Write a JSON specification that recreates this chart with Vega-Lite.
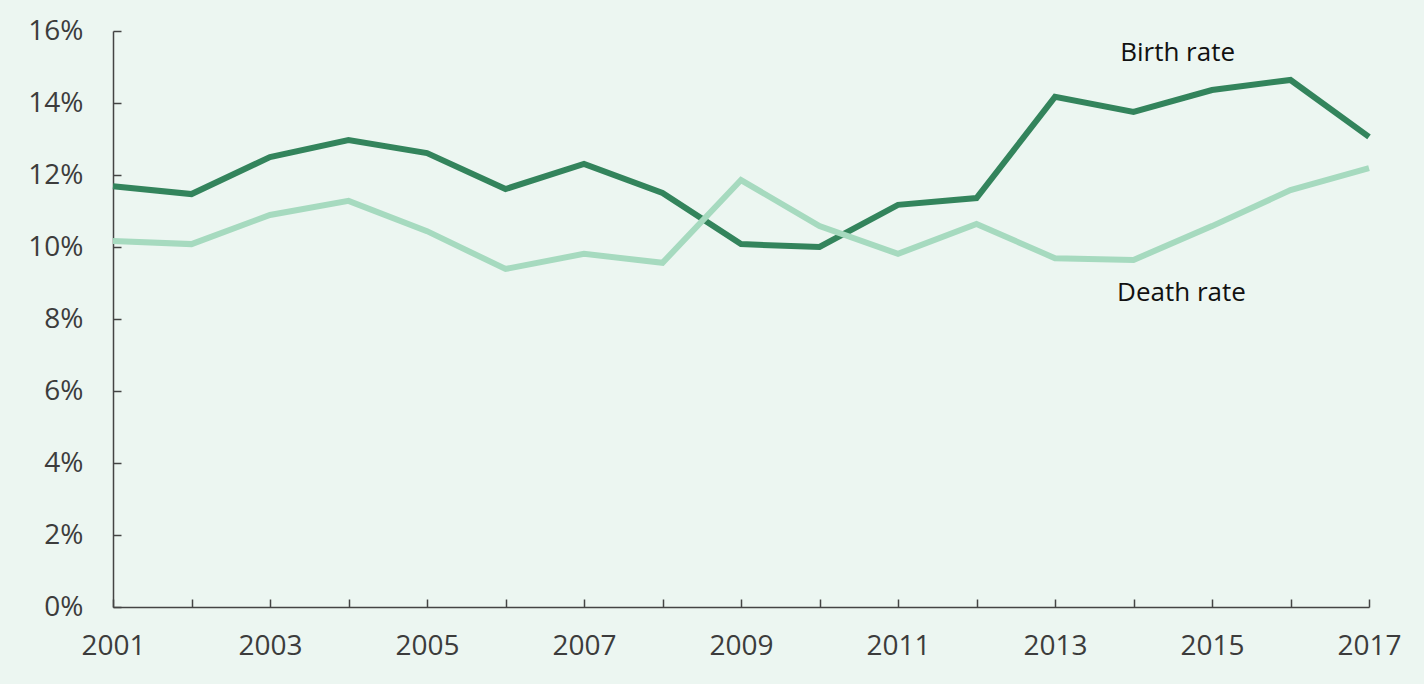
{
  "$schema": "https://vega.github.io/schema/vega-lite/v6.json",
  "width": 1256,
  "height": 576,
  "autosize": {"type": "none"},
  "padding": {"left": 113, "top": 31, "right": 55, "bottom": 77},
  "background": "#ECF6F1",
  "config": {
    "view": {"stroke": null},
    "font": "Open Sans"
  },
  "datasets": {
    "rates": [
      {"year": 2001, "series": "Birth rate", "value": 11.69},
      {"year": 2002, "series": "Birth rate", "value": 11.47},
      {"year": 2003, "series": "Birth rate", "value": 12.5},
      {"year": 2004, "series": "Birth rate", "value": 12.97},
      {"year": 2005, "series": "Birth rate", "value": 12.61},
      {"year": 2006, "series": "Birth rate", "value": 11.61},
      {"year": 2007, "series": "Birth rate", "value": 12.31},
      {"year": 2008, "series": "Birth rate", "value": 11.5},
      {"year": 2009, "series": "Birth rate", "value": 10.08},
      {"year": 2010, "series": "Birth rate", "value": 10.0},
      {"year": 2011, "series": "Birth rate", "value": 11.17},
      {"year": 2012, "series": "Birth rate", "value": 11.36},
      {"year": 2013, "series": "Birth rate", "value": 14.17},
      {"year": 2014, "series": "Birth rate", "value": 13.75},
      {"year": 2015, "series": "Birth rate", "value": 14.36},
      {"year": 2016, "series": "Birth rate", "value": 14.64},
      {"year": 2017, "series": "Birth rate", "value": 13.06},
      {"year": 2001, "series": "Death rate", "value": 10.17},
      {"year": 2002, "series": "Death rate", "value": 10.08},
      {"year": 2003, "series": "Death rate", "value": 10.89},
      {"year": 2004, "series": "Death rate", "value": 11.28},
      {"year": 2005, "series": "Death rate", "value": 10.44},
      {"year": 2006, "series": "Death rate", "value": 9.39},
      {"year": 2007, "series": "Death rate", "value": 9.81},
      {"year": 2008, "series": "Death rate", "value": 9.56},
      {"year": 2009, "series": "Death rate", "value": 11.86},
      {"year": 2010, "series": "Death rate", "value": 10.58},
      {"year": 2011, "series": "Death rate", "value": 9.81},
      {"year": 2012, "series": "Death rate", "value": 10.64},
      {"year": 2013, "series": "Death rate", "value": 9.69},
      {"year": 2014, "series": "Death rate", "value": 9.64},
      {"year": 2015, "series": "Death rate", "value": 10.58},
      {"year": 2016, "series": "Death rate", "value": 11.58},
      {"year": 2017, "series": "Death rate", "value": 12.19}
    ],
    "labels": [
      {"year": 2013.83, "value": 15.39, "label": "Birth rate"},
      {"year": 2013.79, "value": 8.72, "label": "Death rate"}
    ]
  },
  "layer": [
    {
      "data": {"name": "rates"},
      "mark": {"type": "line", "strokeWidth": 6, "strokeJoin": "miter"},
      "encoding": {
        "x": {
          "field": "year", "type": "quantitative",
          "scale": {"domain": [2001, 2017], "nice": false, "zero": false},
          "axis": {
            "title": null,
            "values": [2001,2002,2003,2004,2005,2006,2007,2008,2009,2010,2011,2012,2013,2014,2015,2016,2017],
            "labelExpr": "datum.value % 2 == 1 ? format(datum.value, 'd') : ''",
            "grid": false,
            "domainColor": "#444444",
            "domainWidth": 1.5,
            "tickColor": "#444444",
            "tickWidth": 1.5,
            "tickSize": -8,
            "labelFontSize": 28,
            "labelColor": "#3c3c3c",
            "labelPadding": 33,
            "labelFlush": false,
            "labelOverlap": false
          }
        },
        "y": {
          "field": "value", "type": "quantitative",
          "scale": {"domain": [0, 16], "nice": false},
          "axis": {
            "title": null,
            "values": [0,2,4,6,8,10,12,14,16],
            "labelExpr": "datum.value + '%'",
            "grid": false,
            "domainColor": "#444444",
            "domainWidth": 1.5,
            "tickColor": "#444444",
            "tickWidth": 1.5,
            "tickSize": -8,
            "labelFontSize": 28,
            "labelColor": "#3c3c3c",
            "labelPadding": 38
          }
        },
        "color": {
          "field": "series", "type": "nominal",
          "scale": {"domain": ["Birth rate", "Death rate"], "range": ["#33845C", "#A6DABF"]},
          "legend": null
        }
      }
    },
    {
      "data": {"name": "labels"},
      "mark": {"type": "text", "align": "left", "baseline": "middle", "fontSize": 26, "color": "#111111"},
      "encoding": {
        "x": {"field": "year", "type": "quantitative"},
        "y": {"field": "value", "type": "quantitative"},
        "text": {"field": "label"}
      }
    }
  ]
}
